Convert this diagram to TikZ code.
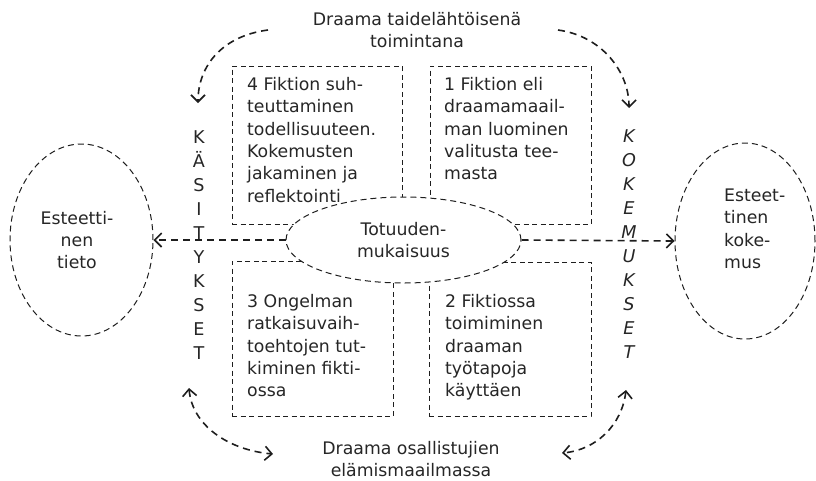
\documentclass[tikz,border=0pt]{standalone}
\usepackage{fontspec}
\setmainfont{DejaVu Sans}[ItalicFont={DejaVu Sans Oblique}]
\usetikzlibrary{arrows.meta,shapes.geometric}
\definecolor{ink}{HTML}{1E1E1E}
\definecolor{txt}{HTML}{262626}
\tikzset{
  lbl/.style={font=\fontsize{17.3}{22.4}\selectfont, text=txt, inner sep=0pt, align=left},
  ctr/.style={lbl, align=center},
  col/.style={font=\fontsize{17.6}{24}\selectfont, text=txt, inner sep=0pt, align=center},
  frame/.style={draw=ink, line width=1pt, dash pattern=on 5pt off 3.5pt, inner sep=0pt},
  oval/.style={ellipse, draw=ink, line width=1pt, dash pattern=on 6pt off 4pt, inner sep=0pt, fill=white},
  flow/.style={draw=ink, line width=1.6pt, dash pattern=on 7pt off 5pt},
  barb/.tip={Straight Barb[length=7pt,width=14pt]},
}
\begin{document}
\begin{tikzpicture}[x=1pt,y=-1pt]
\useasboundingbox (0,0) rectangle (816,480);

% the four phase boxes
\node[frame, minimum width=170pt, minimum height=158pt] (box4) at (317,145) {};
\node[frame, minimum width=161pt, minimum height=158pt] (box1) at (510.5,145) {};
\node[frame, minimum width=161pt, minimum height=155pt] (box3) at (312.5,338.5) {};
\node[frame, minimum width=162pt, minimum height=154pt] (box2) at (510,339) {};

\node[lbl, anchor=north west] (t4) at (247,77) {4 Fiktion suh-\\teuttaminen\\todellisuuteen.\\Kokemusten\\jakaminen ja\\reflektointi};
\node[lbl, anchor=north west] (t1) at (444,77) {1 Fiktion eli\\draamamaail-\\man luominen\\valitusta tee-\\masta};
\node[lbl, anchor=north west] (t3) at (247,294) {3 Ongelman\\ratkaisuvaih-\\toehtojen tut-\\kiminen fikti-\\ossa};
\node[lbl, anchor=north west] (t2) at (445,294) {2 Fiktiossa\\toimiminen\\draaman\\työtapoja\\käyttäen};

% vertical words
\node[col] (kasit) at (199,245) {K\\Ä\\S\\I\\T\\Y\\K\\S\\E\\T};
\node[col, font=\fontsize{17.6}{24}\selectfont\itshape] (kokem) at (629,244) {K\\O\\K\\E\\M\\U\\K\\S\\E\\T};

% central and side ellipses
\node[oval, minimum width=235pt, minimum height=86pt, ctr] (truth) at (403.5,240) {Totuuden-\\mukaisuus};
\node[oval, minimum width=143pt, minimum height=192pt] (knowledge) at (81.5,240) {};
\node[ctr] (knowtext) at (77,240) {Esteetti-\\nen\\tieto};
\node[oval, minimum width=140pt, minimum height=196pt] (experience) at (745,241) {};
\node[lbl, anchor=west] (exptext) at (724,229) {Esteet-\\tinen\\koke-\\mus};

% top and bottom captions
\node[ctr] (topcap) at (417,30) {Draama taidelähtöisenä\\toimintana};
\node[ctr] (botcap) at (411,459) {Draama osallistujien\\elämismaailmassa};

% curved arrows
\coordinate (tlS) at (268,30); \coordinate (tlE) at (198,103);
\coordinate (trS) at (558,30); \coordinate (trE) at (629,108);
\coordinate (blA) at (189,388); \coordinate (blB) at (273,454);
\coordinate (brA) at (626,390); \coordinate (brB) at (562,453);
\draw[flow,-barb] (tlS) .. controls (222,36) and (198,66) .. (tlE);
\draw[flow,-barb] (trS) .. controls (602,36) and (629,72) .. (trE);
\draw[flow,barb-barb] (blA) .. controls (192,425) and (228,450) .. (blB);
\draw[flow,barb-barb] (brA) .. controls (622,425) and (596,450) .. (brB);

% straight arrows from the centre
\draw[flow,-barb] (truth.west) -- (knowledge.east);
\draw[flow,-barb] (truth.east) -- (experience.west);
\end{tikzpicture}
\end{document}
